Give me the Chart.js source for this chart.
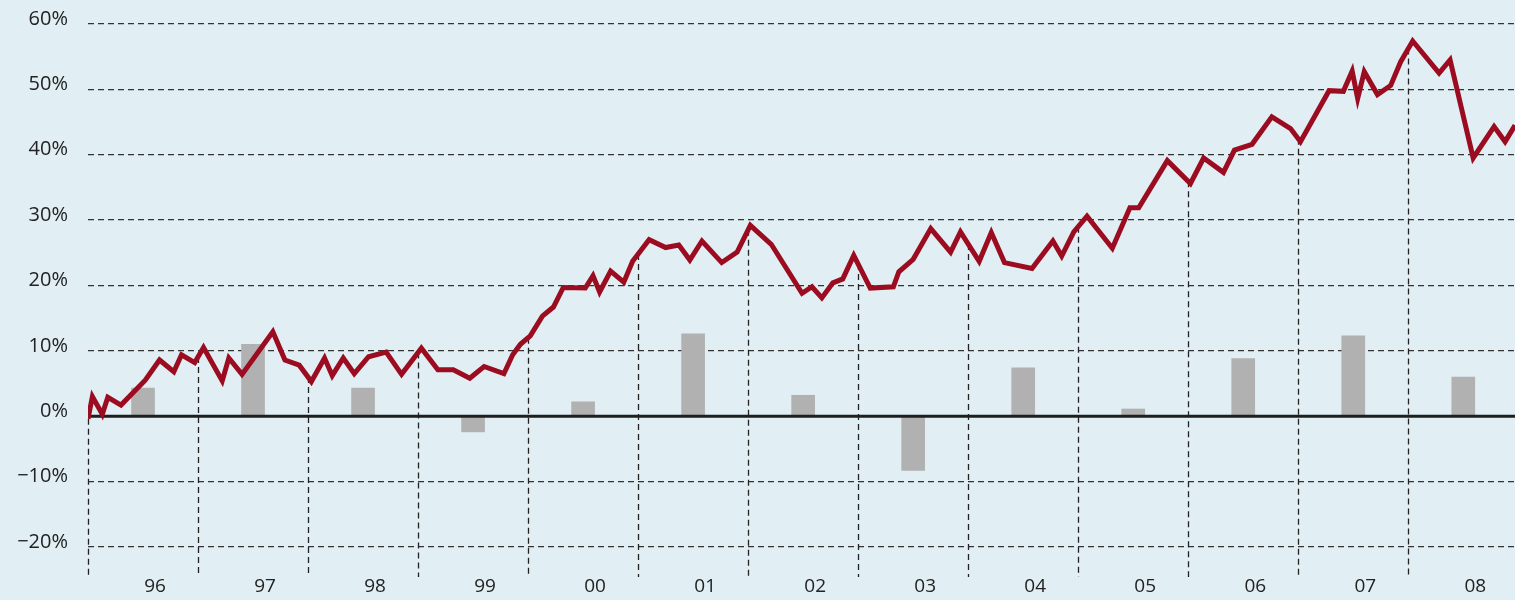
<!DOCTYPE html>
<html>
<head>
<meta charset="utf-8">
<script src="https://cdn.jsdelivr.net/npm/chart.js@4.4.1/dist/chart.umd.min.js"></script>
<style>
  html, body { margin: 0; padding: 0; background: #e1eef4; }
  #wrap { width: 1515px; height: 600px; position: relative; }
</style>
</head>
<body>
<div id="wrap"><canvas id="chart"></canvas></div>
<script>
// year labels, one bar per year
const years = ['96', '97', '98', '99', '00', '01', '02', '03', '04', '05', '06', '07', '08'];
const barValues = [4.3, 11.0, 4.3, -2.4, 2.2, 12.6, 3.2, -8.3, 7.4, 1.1, 8.8, 12.3, 6.0];

// line series: x = years since start of 96, y = percent
const lineX = [0.00, 0.04, 0.13, 0.18, 0.30, 0.52, 0.65, 0.78, 0.85, 0.97,
    1.05, 1.22, 1.28, 1.40, 1.68, 1.79, 1.92,
    2.03, 2.15, 2.22, 2.32, 2.42, 2.55, 2.71, 2.85,
    3.03, 3.18, 3.32, 3.47, 3.60, 3.78, 3.86, 3.93,
    4.02, 4.13, 4.23, 4.32, 4.52, 4.59, 4.65, 4.75, 4.87, 4.95,
    5.10, 5.25, 5.37, 5.47, 5.58, 5.76, 5.90,
    6.02, 6.21, 6.49, 6.58, 6.67, 6.77, 6.86, 6.96,
    7.11, 7.32, 7.37, 7.50, 7.66, 7.84, 7.93,
    8.10, 8.21, 8.33, 8.58, 8.77, 8.85, 8.96,
    9.08, 9.31, 9.47, 9.55, 9.81,
    10.02, 10.14, 10.32, 10.42, 10.58, 10.76, 10.93,
    11.02, 11.28, 11.41, 11.49, 11.54, 11.60, 11.72, 11.84, 11.93,
    12.04, 12.28, 12.38, 12.59, 12.78, 12.88, 12.97];
const lineY = [-0.4, 3.0, 0.3, 2.9, 1.7, 5.5, 8.6, 6.8, 9.4, 8.2,
    10.5, 5.4, 8.9, 6.4, 12.9, 8.6, 7.8,
    5.3, 8.9, 6.2, 8.9, 6.5, 9.1, 9.8, 6.4,
    10.4, 7.1, 7.1, 5.8, 7.6, 6.5, 9.4, 11.0,
    12.3, 15.3, 16.7, 19.7, 19.6, 21.5, 19.0, 22.2, 20.5, 23.7,
    27.0, 25.8, 26.2, 23.9, 26.8, 23.5, 25.1,
    29.2, 26.3, 18.8, 19.8, 18.1, 20.4, 21.0, 24.6,
    19.6, 19.8, 22.1, 24.0, 28.7, 25.1, 28.2,
    23.7, 28.1, 23.5, 22.6, 26.8, 24.5, 28.2,
    30.6, 25.7, 31.9, 31.9, 39.1,
    35.6, 39.5, 37.3, 40.7, 41.6, 45.8, 44.0,
    42.0, 49.8, 49.7, 52.8, 48.6, 52.7, 49.2, 50.6, 54.2,
    57.4, 52.5, 54.5, 39.5, 44.3, 42.0, 44.5];

const yTicks = [-20, -10, 0, 10, 20, 30, 40, 50, 60];

const linePoints = lineX.map((x, i) => ({ x: x, y: lineY[i] }));
const barPoints = barValues.map((v, i) => ({ x: i + 0.5, y: v }));

function valueAt(x) {
    for (let i = 1; i < lineX.length; i++) {
        if (lineX[i] >= x) {
            const t = (x - lineX[i - 1]) / (lineX[i] - lineX[i - 1]);
            return lineY[i - 1] + t * (lineY[i] - lineY[i - 1]);
        }
    }
    return lineY[lineY.length - 1];
}

// dashed year separators dropping from the line, and the solid zero line
const decorations = {
    id: 'decorations',
    beforeDatasetsDraw(chart) {
        const { ctx, chartArea, scales } = chart;
        ctx.save();
        ctx.strokeStyle = '#222';
        ctx.lineWidth = 1.3;
        ctx.setLineDash([6, 4]);
        for (let k = 0; k < years.length; k++) {
            const px = Math.round(scales.x.getPixelForValue(k)) + 0.5;
            const py = scales.y.getPixelForValue(valueAt(k));
            ctx.beginPath();
            ctx.moveTo(px, py);
            ctx.lineTo(px, chartArea.bottom);
            ctx.stroke();
        }
        ctx.restore();
    },
    beforeDatasetDraw(chart, args) {
        if (args.index !== 0) return;
        const { ctx, chartArea, scales } = chart;
        const y0 = scales.y.getPixelForValue(0);
        ctx.save();
        ctx.strokeStyle = '#1e1e1e';
        ctx.lineWidth = 3;
        ctx.beginPath();
        ctx.moveTo(chartArea.left, y0);
        ctx.lineTo(chartArea.right, y0);
        ctx.stroke();
        ctx.restore();
    }
};

const ctx = document.getElementById('chart').getContext('2d');
new Chart(ctx, {
    type: 'line',
    data: {
        datasets: [{
            type: 'line',
            data: linePoints,
            borderColor: '#9c0c20',
            borderWidth: 5,
            borderJoinStyle: 'miter',
            pointRadius: 0,
            tension: 0,
            order: 1
        }, {
            type: 'bar',
            data: barPoints,
            backgroundColor: '#b1b1b1',
            barThickness: 23,
            order: 2
        }]
    },
    options: {
        responsive: true,
        maintainAspectRatio: false,
        animation: false,
        layout: { padding: { top: 24, left: 0, right: 0, bottom: 0 } },
        plugins: {
            legend: { display: false },
            tooltip: { enabled: false }
        },
        scales: {
            x: {
                type: 'linear',
                min: 0,
                max: 12.97,
                offset: false,
                grid: { display: false, drawTicks: false },
                border: { display: false },
                afterBuildTicks: scale => {
                    scale.ticks = years.map((y, i) => ({ value: i + 0.5 }));
                },
                afterFit: scale => {
                    scale.height = 23;
                    scale.paddingLeft = 0;
                    scale.paddingRight = 0;
                },
                ticks: {
                    autoSkip: false,
                    maxRotation: 0,
                    padding: 0,
                    labelOffset: 12,
                    color: '#222',
                    font: { family: 'Open Sans', size: 19, lineHeight: 1 },
                    callback: value => years[Math.floor(value)]
                }
            },
            y: {
                type: 'linear',
                min: -24.6,
                max: 60,
                afterBuildTicks: scale => {
                    scale.ticks = yTicks.map(v => ({ value: v }));
                },
                afterFit: scale => {
                    scale.width = 88;
                    scale.paddingTop = 0;
                    scale.paddingBottom = 0;
                },
                grid: {
                    drawTicks: false,
                    color: c => (c.tick && c.tick.value === 0) ? 'rgba(0,0,0,0)' : '#333',
                    lineWidth: 1.2
                },
                border: { display: false, dash: [6, 4] },
                ticks: {
                    padding: 20,
                    labelOffset: -5,
                    color: '#222',
                    font: { family: 'Open Sans', size: 20 },
                    callback: v => (v < 0 ? '\u2212' + Math.abs(v) : v) + '%'
                }
            }
        }
    },
    plugins: [decorations]
});
</script>
</body>
</html>
